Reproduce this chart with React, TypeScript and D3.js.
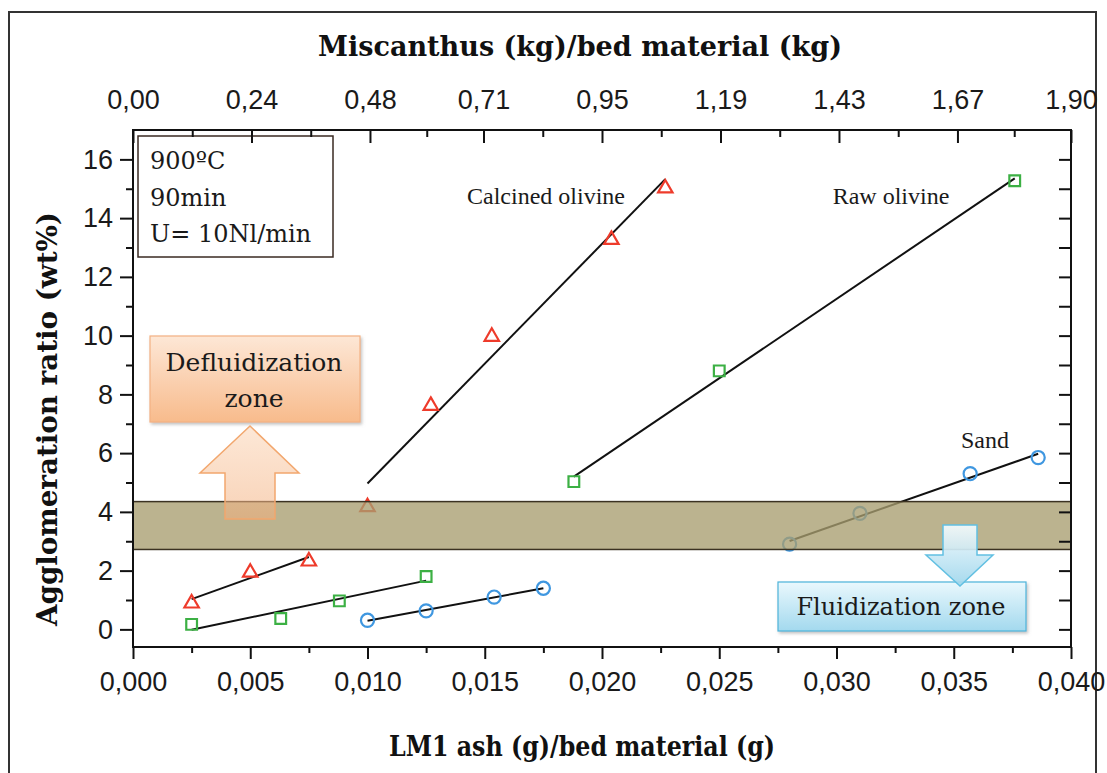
import { useRef, useEffect } from "react";
import * as d3 from "d3";

// bottom axis: LM1 ash (g) / bed material (g)
const xTicks = [0, 0.005, 0.01, 0.015, 0.02, 0.025, 0.03, 0.035, 0.04];
const xMinorTicks = [0.0025, 0.0075, 0.0125, 0.0175, 0.0225, 0.0275, 0.0325, 0.0375];
// top axis: Miscanthus (kg) / bed material (kg)
const topTickValues = [0, 0.24, 0.48, 0.71, 0.95, 1.19, 1.43, 1.67, 1.9];
const topTickLabels = ["0,00", "0,24", "0,48", "0,71", "0,95", "1,19", "1,43", "1,67", "1,90"];
const yTicks = [0, 2, 4, 6, 8, 10, 12, 14, 16];
const yMinorTicks = [1, 3, 5, 7, 9, 11, 13, 15];

// Calcined olivine (red triangles)
const calcinedLowX = [0.0025, 0.005, 0.0075];
const calcinedLowY = [0.92, 1.97, 2.35];
const calcinedHighX = [0.01, 0.0127, 0.0153, 0.0204, 0.0227];
const calcinedHighY = [4.2, 7.65, 10.0, 13.3, 15.05];

// Raw olivine (green squares)
const rawLowX = [0.0025, 0.0063, 0.0088, 0.0125];
const rawLowY = [0.17, 0.37, 0.97, 1.8];
const rawHighX = [0.0188, 0.025, 0.0376];
const rawHighY = [5.03, 8.8, 15.27];

// Sand (blue circles)
const sandLowX = [0.01, 0.0125, 0.0154, 0.0175];
const sandLowY = [0.31, 0.63, 1.1, 1.4];
const sandHighX = [0.028, 0.031, 0.0357, 0.0386];
const sandHighY = [2.9, 3.95, 5.3, 5.85];

// transition band between fluidization and defluidization
const bandY = [2.72, 4.35];

const RED = "#ee3b2b";
const GREEN = "#3cb044";
const BLUE = "#3f97e0";

function fit(xs: number[], ys: number[]) {
  const mx = d3.mean(xs)!;
  const my = d3.mean(ys)!;
  let sxy = 0;
  let sxx = 0;
  xs.forEach((x, i) => {
    sxy += (x - mx) * (ys[i] - my);
    sxx += (x - mx) * (x - mx);
  });
  const b = sxy / sxx;
  const x0 = d3.min(xs)!;
  const x1 = d3.max(xs)!;
  return [
    [x0, my + b * (x0 - mx)],
    [x1, my + b * (x1 - mx)],
  ] as [number, number][];
}

export default function App() {
  const svgRef = useRef<SVGSVGElement>(null);

  useEffect(() => {
    document.body.style.margin = "0";
    if (!svgRef.current) return;
    const svg = d3.select(svgRef.current);
    svg.selectAll("*").remove();

    const left = 133;
    const right = 1071;
    const top = 130;
    const bottom = 647;

    const x = d3.scaleLinear().domain([0, 0.04]).range([left, right]);
    const xTop = d3.scaleLinear().domain([0, 1.9]).range([left, right]);
    const y = d3.scaleLinear().domain([-0.6, 17]).range([bottom, top]);

    const defs = svg.append("defs");
    const grad = (id: string, c0: string, c1: string) => {
      const g = defs
        .append("linearGradient")
        .attr("id", id)
        .attr("x1", 0)
        .attr("y1", 0)
        .attr("x2", 0)
        .attr("y2", 1);
      g.append("stop").attr("offset", "0%").attr("stop-color", c0);
      g.append("stop").attr("offset", "100%").attr("stop-color", c1);
    };
    grad("orangeBox", "#fde7d6", "#f8bb8c");
    grad("orangeArrow", "#fbd5b6", "#f3ae7c");
    grad("blueBox", "#eaf8fd", "#a3d9ee");
    grad("blueArrow", "#f4fbfe", "#9ed6ec");
    defs
      .append("filter")
      .attr("id", "shadow")
      .attr("x", "-10%")
      .attr("y", "-10%")
      .attr("width", "130%")
      .attr("height", "140%")
      .append("feDropShadow")
      .attr("dx", 1.5)
      .attr("dy", 2)
      .attr("stdDeviation", 1.5)
      .attr("flood-color", "#888")
      .attr("flood-opacity", 0.5);

    // outer frame
    svg
      .append("rect")
      .attr("x", 9)
      .attr("y", 12)
      .attr("width", 1087)
      .attr("height", 800)
      .attr("fill", "none")
      .attr("stroke", "#333")
      .attr("stroke-width", 2);

    // Defluidization box
    svg
      .append("rect")
      .attr("x", 150)
      .attr("y", 336)
      .attr("width", 210)
      .attr("height", 86)
      .attr("fill", "url(#orangeBox)")
      .attr("stroke", "#f4b183")
      .attr("stroke-width", 1.2)
      .attr("filter", "url(#shadow)");
    const defText = svg
      .append("text")
      .attr("text-anchor", "middle")
      .style("font-family", "DejaVu Serif")
      .style("font-size", "25px")
      .style("fill", "#1a1a1a");
    defText.append("tspan").attr("x", 254).attr("y", 371).text("Defluidization");
    defText.append("tspan").attr("x", 254).attr("y", 407).text("zone");

    // fit lines
    const line = d3
      .line<[number, number]>()
      .x((d) => x(d[0]))
      .y((d) => y(d[1]));
    const fits = [
      fit(calcinedLowX, calcinedLowY),
      fit(calcinedHighX, calcinedHighY),
      fit(rawLowX, rawLowY),
      fit(rawHighX, rawHighY),
      fit(sandLowX, sandLowY),
      fit(sandHighX, sandHighY),
    ];
    svg
      .selectAll(".fit")
      .data(fits)
      .enter()
      .append("path")
      .attr("d", (d) => line(d))
      .attr("fill", "none")
      .attr("stroke", "#111")
      .attr("stroke-width", 2);

    // markers
    const drawSeries = (
      xs: number[],
      ys: number[],
      type: d3.SymbolType,
      size: number,
      color: string,
      dy = 0,
    ) => {
      svg
        .append("g")
        .selectAll("path")
        .data(xs.map((v, i) => [v, ys[i]]))
        .enter()
        .append("path")
        .attr("transform", (d) => `translate(${x(d[0])},${y(d[1]) + dy})`)
        .attr("d", d3.symbol().type(type).size(size)())
        .attr("fill", "none")
        .attr("stroke", color)
        .attr("stroke-width", 2.2);
    };
    drawSeries(calcinedLowX, calcinedLowY, d3.symbolTriangle, 90, RED, 1);
    drawSeries(calcinedHighX, calcinedHighY, d3.symbolTriangle, 90, RED, 1);
    drawSeries(rawLowX, rawLowY, d3.symbolSquare, 115, GREEN);
    drawSeries(rawHighX, rawHighY, d3.symbolSquare, 115, GREEN);
    drawSeries(sandLowX, sandLowY, d3.symbolCircle, 135, BLUE);
    drawSeries(sandHighX, sandHighY, d3.symbolCircle, 135, BLUE);

    // transition band, laid over the marks
    svg
      .append("rect")
      .attr("x", left)
      .attr("y", y(bandY[1]))
      .attr("width", right - left)
      .attr("height", y(bandY[0]) - y(bandY[1]))
      .attr("fill", "#a89d70")
      .attr("fill-opacity", 0.78)
      .attr("stroke", "#3b3222")
      .attr("stroke-width", 1.5);

    // up arrow
    svg
      .append("path")
      .attr("d", "M250,426 L299,473 L275,473 L275,519 L225,519 L225,473 L200,473 Z")
      .attr("fill", "url(#orangeArrow)")
      .attr("fill-opacity", 0.55)
      .attr("stroke", "#f2a76e")
      .attr("stroke-width", 1.5);

    // series labels
    const label = (t: string, lx: number, ly: number) =>
      svg
        .append("text")
        .attr("x", lx)
        .attr("y", ly)
        .attr("text-anchor", "middle")
        .style("font-family", "Liberation Serif")
        .style("font-size", "24px")
        .style("fill", "#1a1a1a")
        .text(t);
    label("Calcined olivine", 546, 204);
    label("Raw olivine", 891, 204);
    label("Sand", 985, 448);

    // Fluidization annotation
    svg
      .append("rect")
      .attr("x", 778)
      .attr("y", 582)
      .attr("width", 248)
      .attr("height", 49)
      .attr("fill", "url(#blueBox)")
      .attr("stroke", "#4cb4da")
      .attr("stroke-width", 1.2)
      .attr("filter", "url(#shadow)");
    svg
      .append("path")
      .attr("d", "M943,525 L977,525 L977,555 L993,555 L960,586 L926,555 L943,555 Z")
      .attr("fill", "url(#blueArrow)")
      .attr("fill-opacity", 0.92)
      .attr("stroke", "#62c0e2")
      .attr("stroke-width", 1.5);
    svg
      .append("text")
      .attr("x", 901)
      .attr("y", 615)
      .attr("text-anchor", "middle")
      .style("font-family", "DejaVu Serif")
      .style("font-size", "24px")
      .style("fill", "#1a1a1a")
      .text("Fluidization zone");

    // conditions box
    svg
      .append("rect")
      .attr("x", 138)
      .attr("y", 136)
      .attr("width", 195)
      .attr("height", 121)
      .attr("fill", "#fff")
      .attr("stroke", "#3a2a22")
      .attr("stroke-width", 1.5);
    const cond = svg
      .append("text")
      .style("font-family", "DejaVu Serif")
      .style("font-size", "24px")
      .style("fill", "#1a1a1a");
    cond.append("tspan").attr("x", 150).attr("y", 169).text("900ºC");
    cond.append("tspan").attr("x", 150).attr("y", 206).text("90min");
    cond.append("tspan").attr("x", 150).attr("y", 242).text("U= 10Nl/min");

    // axes
    const fmtX = (d: d3.NumberValue) => d3.format(".3f")(+d).replace(".", ",");
    const styleAxis = (g: d3.Selection<SVGGElement, unknown, null, undefined>) => {
      g.select(".domain").remove();
      g.selectAll("line").attr("stroke", "#111").attr("stroke-width", 2);
      g.selectAll("text")
        .style("font-family", "Liberation Sans")
        .style("font-size", "27px")
        .style("fill", "#1a1a1a");
    };

    svg
      .append("g")
      .attr("transform", `translate(0,${bottom})`)
      .call(d3.axisBottom(x).tickValues(xTicks).tickSize(12).tickPadding(13).tickFormat(fmtX))
      .call(styleAxis);
    svg
      .append("g")
      .attr("transform", `translate(0,${bottom})`)
      .call(d3.axisBottom(x).tickValues(xMinorTicks).tickSize(6).tickFormat(() => ""))
      .call(styleAxis);

    svg
      .append("g")
      .attr("transform", `translate(0,${top})`)
      .call(
        d3
          .axisTop(xTop)
          .tickValues(topTickValues)
          .tickSize(-13)
          .tickPadding(21)
          .tickFormat((_, i) => topTickLabels[i]),
      )
      .call(styleAxis);
    svg
      .append("g")
      .attr("transform", `translate(0,${top})`)
      .call(
        d3
          .axisTop(xTop)
          .tickValues(d3.pairs(topTickValues).map(([a, b]) => (a + b) / 2))
          .tickSize(-7)
          .tickFormat(() => ""),
      )
      .call(styleAxis);

    svg
      .append("g")
      .attr("transform", `translate(${left},0)`)
      .call(d3.axisLeft(y).tickValues(yTicks).tickSize(13).tickPadding(7))
      .call(styleAxis);
    svg
      .append("g")
      .attr("transform", `translate(${left},0)`)
      .call(d3.axisLeft(y).tickValues(yMinorTicks).tickSize(7).tickFormat(() => ""))
      .call(styleAxis);

    svg
      .append("g")
      .attr("transform", `translate(${right},0)`)
      .call(
        d3
          .axisRight(y)
          .tickValues([...yTicks, ...yMinorTicks])
          .tickSize(-12)
          .tickFormat(() => ""),
      )
      .call(styleAxis);

    // plot frame
    svg
      .append("rect")
      .attr("x", left)
      .attr("y", top)
      .attr("width", right - left)
      .attr("height", bottom - top)
      .attr("fill", "none")
      .attr("stroke", "#111")
      .attr("stroke-width", 2);

    // axis titles
    const title = (t: string, len: number) =>
      svg
        .append("text")
        .attr("text-anchor", "middle")
        .attr("textLength", len)
        .attr("lengthAdjust", "spacingAndGlyphs")
        .style("font-family", "DejaVu Serif")
        .style("font-weight", "bold")
        .style("font-size", "28px")
        .style("fill", "#111")
        .text(t);
    title("Miscanthus (kg)/bed material (kg)", 524).attr("x", 580).attr("y", 56);
    title("LM1 ash (g)/bed material (g)", 386).attr("x", 582).attr("y", 756);
    title("Agglomeration ratio (wt%)", 414).attr(
      "transform",
      "translate(57,419) rotate(-90)",
    );
  }, []);

  return (
    <svg
      ref={svgRef}
      width={1107}
      height={773}
      style={{ display: "block", background: "#fff" }}
    />
  );
}
